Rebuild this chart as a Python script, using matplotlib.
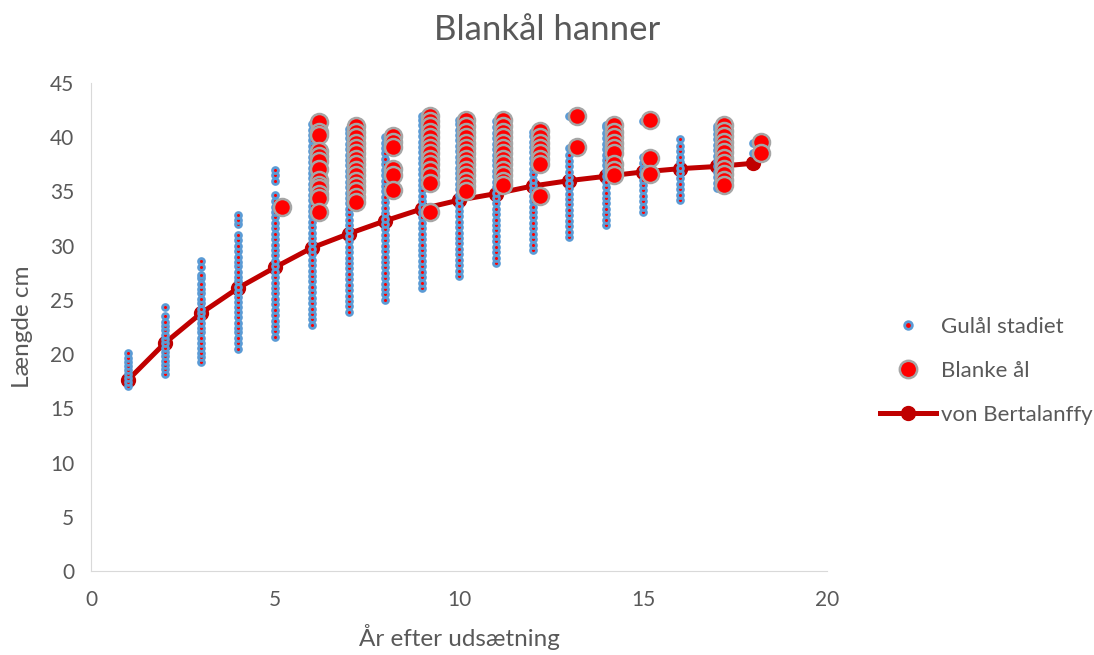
import matplotlib.pyplot as plt
from matplotlib.lines import Line2D

# von Bertalanffy fitted curve
vb_ages = [1, 2, 3, 4, 5, 6, 7, 8, 9, 10, 11, 12, 13, 14, 15, 16, 17, 18]
vb_lengths = [17.6, 21.0, 23.8, 26.1, 28.0, 29.8, 31.1, 32.3, 33.4, 34.2,
              34.8, 35.5, 36.0, 36.4, 36.8, 37.1, 37.3, 37.6]

# yellow eel stage (one list of lengths per age)
gul_ages = [1, 2, 3, 4, 5, 6, 7, 8, 9, 10, 11, 12, 13, 14, 15, 16, 17, 18]
gul_lengths = [
    [17.1, 17.4, 17.8, 18.2, 18.5, 18.9, 19.3, 19.6, 20.1],
    [18.2, 18.6, 19.0, 19.4, 19.8, 20.2, 20.6, 21.0, 21.4, 21.8, 22.2, 22.6,
     23.0, 23.5, 24.3],
    [19.3, 19.7, 20.1, 20.6, 21.0, 21.5, 22.0, 22.4, 22.9, 23.3, 23.8, 24.2,
     24.7, 25.1, 25.6, 26.0, 26.5, 27.0, 27.3, 28.0, 28.6],
    [20.5, 21.0, 21.5, 22.0, 22.4, 22.9, 23.4, 23.9, 24.3, 24.8, 25.3, 25.7,
     26.2, 26.7, 27.1, 27.6, 28.1, 28.5, 29.0, 29.5, 30.0, 30.5, 31.0, 32.0,
     32.4, 32.8],
    [21.6, 22.1, 22.6, 23.1, 23.6, 24.1, 24.6, 25.1, 25.6, 26.1, 26.6, 27.1,
     27.6, 28.1, 28.6, 29.1, 29.6, 30.1, 30.6, 31.1, 31.6, 32.1, 32.6, 33.1,
     33.6, 34.1, 34.7, 36.0, 36.5, 37.0],
    [22.7, 23.2, 23.7, 24.2, 24.7, 25.2, 25.7, 26.2, 26.7, 27.2, 27.7, 28.2,
     28.7, 29.2, 29.7, 30.2, 30.7, 31.2, 31.7, 32.2, 32.7, 33.2, 33.7, 34.2,
     34.7, 35.2, 35.7, 36.2, 36.7, 37.2, 37.7, 38.2, 38.7, 39.2, 39.7, 40.2,
     40.7, 41.2],
    [23.9, 24.4, 24.9, 25.4, 25.9, 26.4, 26.9, 27.4, 27.9, 28.4, 28.9, 29.4,
     29.9, 30.4, 30.9, 31.4, 31.9, 32.4, 32.9, 33.4, 33.9, 34.4, 34.9, 35.4,
     35.9, 36.4, 36.9, 37.4, 37.9, 38.4, 38.9, 39.4, 39.9, 40.4, 40.8],
    [25.0, 25.5, 26.0, 26.5, 27.0, 27.5, 28.0, 28.5, 29.0, 29.5, 30.0, 30.5,
     31.0, 31.5, 32.0, 32.5, 33.0, 33.5, 34.0, 34.5, 35.0, 35.5, 36.0, 36.5,
     37.0, 37.5, 38.0, 38.5, 39.0, 39.5, 40.0],
    [26.1, 26.6, 27.1, 27.6, 28.1, 28.6, 29.1, 29.6, 30.1, 30.6, 31.1, 31.6,
     32.1, 32.6, 33.1, 33.6, 34.1, 34.6, 35.1, 35.6, 36.1, 36.6, 37.1, 37.6,
     38.1, 38.6, 39.1, 39.6, 40.1, 40.6, 41.1, 41.6, 42.0],
    [27.2, 27.7, 28.2, 28.7, 29.2, 29.7, 30.2, 30.7, 31.2, 31.7, 32.2, 32.7,
     33.2, 33.7, 34.2, 34.7, 35.2, 35.7, 36.2, 36.7, 37.2, 37.7, 38.2, 38.7,
     39.2, 39.7, 40.2, 40.7, 41.2, 41.6],
    [28.4, 28.9, 29.4, 29.9, 30.4, 30.9, 31.4, 31.9, 32.4, 32.9, 33.4, 33.9,
     34.4, 34.9, 35.4, 35.9, 36.4, 36.9, 37.4, 37.9, 38.4, 38.9, 39.4, 39.9,
     40.4, 40.9, 41.5],
    [29.6, 30.1, 30.6, 31.1, 31.6, 32.1, 32.6, 33.1, 33.6, 34.1, 34.6, 35.1,
     35.6, 36.1, 36.6, 37.1, 37.6, 38.1, 38.6, 39.1, 39.6, 40.1, 40.5],
    [30.8, 31.3, 31.8, 32.3, 32.8, 33.3, 33.8, 34.3, 34.8, 35.3, 35.8, 36.3,
     36.8, 37.3, 37.8, 38.4, 39.0, 42.0],
    [31.9, 32.4, 32.9, 33.4, 33.9, 34.4, 34.9, 35.4, 35.9, 36.4, 36.9, 37.4,
     37.9, 38.4, 38.9, 39.4, 39.9, 40.4, 40.9, 41.1],
    [33.1, 33.6, 34.1, 34.6, 35.1, 35.6, 36.1, 36.6, 37.1, 37.6, 38.2, 41.5],
    [34.2, 34.7, 35.2, 35.7, 36.2, 36.7, 37.2, 37.7, 38.2, 38.7, 39.2, 39.8],
    [35.3, 35.8, 36.3, 36.8, 37.3, 37.8, 38.3, 38.8, 39.3, 39.8, 40.3, 40.8,
     41.0],
    [38.5, 39.5],
]

# silver eels
blank_ages = [5.2, 6.2, 7.2, 8.2, 9.2, 10.2, 11.2, 12.2, 13.2, 14.2, 15.2, 17.2, 18.2]
blank_lengths = [
    [33.6],
    [41.4, 40.5, 40.2, 38.7, 38.3, 37.8, 37.1, 36.1, 35.6, 35.3, 34.8, 34.4, 33.1],
    [41.0, 40.5, 40.0, 39.5, 39.0, 38.5, 38.0, 37.5, 37.0, 36.5, 36.0, 35.5,
     35.0, 34.5, 34.0],
    [40.1, 39.6, 39.1, 37.1, 36.5, 35.1],
    [42.0, 41.5, 41.0, 40.5, 40.0, 39.5, 39.0, 38.5, 38.0, 37.5, 37.0, 36.4,
     35.8, 33.1],
    [41.6, 41.0, 40.5, 40.0, 39.5, 39.0, 38.5, 38.0, 37.5, 37.0, 36.5, 36.0,
     35.5, 35.0],
    [41.6, 41.0, 40.5, 40.0, 39.5, 39.0, 38.5, 38.0, 37.5, 37.0, 36.5, 36.0, 35.6],
    [40.6, 40.0, 39.5, 39.0, 38.5, 38.0, 37.5, 34.6],
    [42.0, 39.1],
    [41.1, 40.5, 40.0, 39.5, 39.0, 38.5, 37.5, 37.0, 36.5],
    [41.6, 38.1, 36.6],
    [41.1, 40.6, 40.1, 39.6, 39.1, 38.6, 38.1, 37.6, 37.1, 36.6, 36.1, 35.6],
    [39.6, 38.5],
]

text_col = '#595959'
plt.rcParams['font.family'] = ['Lato', 'DejaVu Sans']

fig = plt.figure(figsize=(10.94, 6.55), dpi=100)
ax = fig.add_axes([0.0832, 0.1282, 0.6728, 0.7451])

gx = [a for a, ls in zip(gul_ages, gul_lengths) for _ in ls]
gy = [v for ls in gul_lengths for v in ls]
bx = [a for a, ls in zip(blank_ages, blank_lengths) for _ in ls]
by = [v for ls in blank_lengths for v in ls]

ax.plot(vb_ages, vb_lengths, color='#C00000', lw=3.6, marker='o', ms=10,
        zorder=2, label='von Bertalanffy')
ax.scatter(gx, gy, s=18, c='#FF0000', edgecolors='#5B9BD5', linewidths=2.0,
           zorder=3, label='Gulål stadiet')
ax.scatter(bx, by, s=150, c='#FF0000', edgecolors='#A6A6A6', linewidths=1.8,
           zorder=4, label='Blanke ål')

ax.set_xlim(0, 20)
ax.set_ylim(0, 45)
ax.set_xticks([0, 5, 10, 15, 20])
ax.set_yticks(range(0, 46, 5))
ax.tick_params(length=0, labelsize=15, colors=text_col)
ax.tick_params(axis='x', pad=14)
ax.tick_params(axis='y', pad=12)
for s in ['top', 'right']:
    ax.spines[s].set_visible(False)
for s in ['left', 'bottom']:
    ax.spines[s].set_color('#D9D9D9')

ax.set_xlabel('År efter udsætning', fontsize=17.5, color=text_col, labelpad=10)
ax.set_ylabel('Længde cm', fontsize=17.5, color=text_col, labelpad=12)
fig.suptitle('Blankål hanner', fontsize=25, color=text_col, y=0.978)

handles = [
    Line2D([], [], ls='none', marker='o', ms=5.5, mfc='#FF0000', mec='#5B9BD5', mew=2.0),
    Line2D([], [], ls='none', marker='o', ms=12.5, mfc='#FF0000', mec='#A6A6A6', mew=1.8),
    Line2D([], [], color='#C00000', lw=3.6, marker='o', ms=10),
]
labels = ['Gulål stadiet', 'Blanke ål', 'von Bertalanffy']
leg = ax.legend(handles, labels, loc='center left', bbox_to_anchor=(1.072, 0.41),
                frameon=False, fontsize=16, labelspacing=1.07, handlelength=2.5,
                handletextpad=0.25, borderpad=0, borderaxespad=0,
                labelcolor=text_col)

fig.savefig('out.png', dpi=100)
